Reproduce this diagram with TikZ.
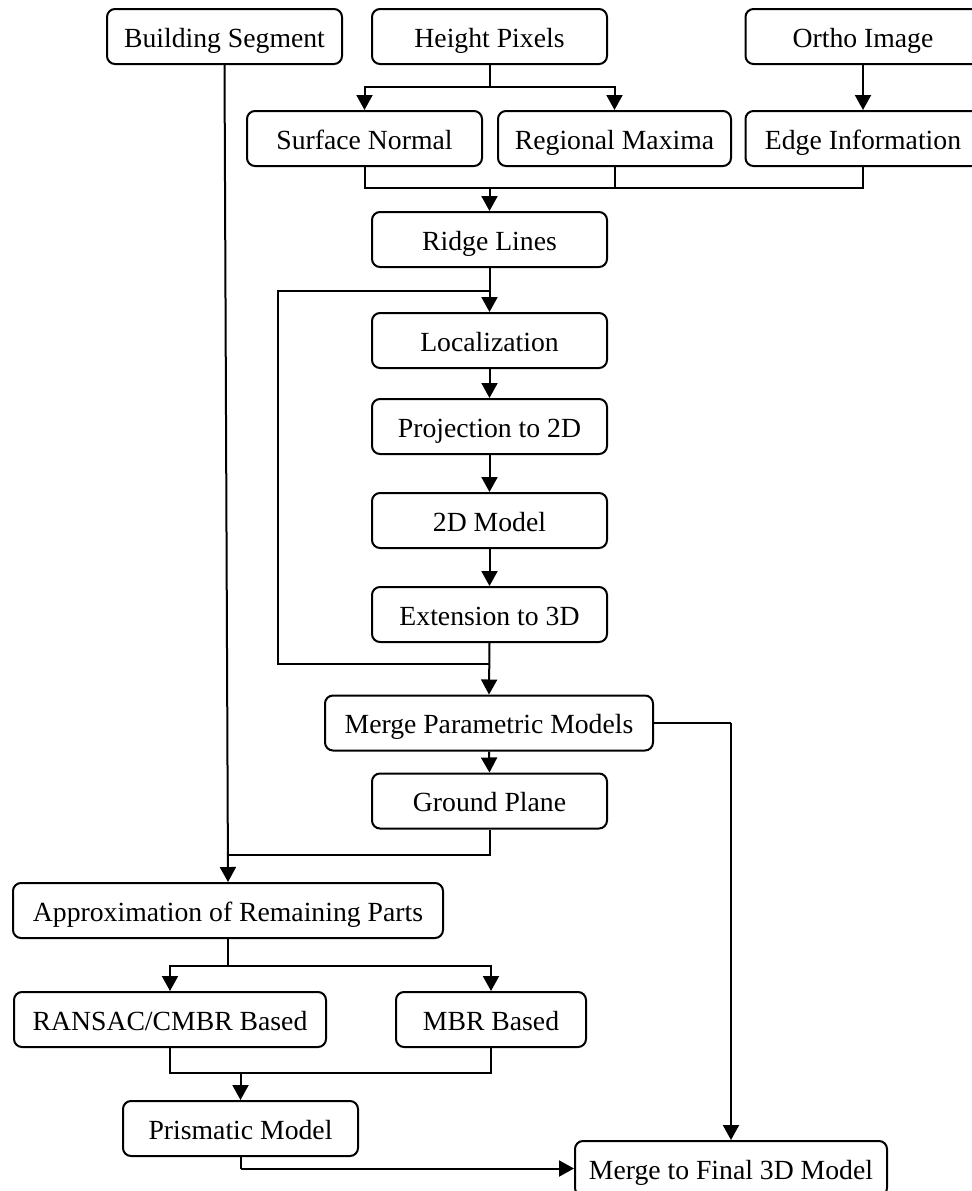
\documentclass[tikz,border=0pt]{standalone}
\usepackage{fontspec}
\setmainfont{Liberation Serif}
\usetikzlibrary{arrows.meta}
\tikzset{
  box/.style={draw, rounded corners=4pt, line width=1pt, inner sep=0pt,
    minimum height=27.5pt, text height=12pt, text depth=1.5pt,
    font=\fontsize{13.85}{16}\selectfont},
  wb/.style={box, minimum width=117.5pt},
  link/.style={line width=1pt},
  arr/.style={line width=1pt, -{Triangle[width=8pt,length=7.5pt]}}
}
\begin{document}
\begin{tikzpicture}[x=0.5pt,y=-0.5pt]
\useasboundingbox (0,0) rectangle (972,1191);
\clip (0,0) rectangle (972,1191);
% nodes
\node[wb] (bs) at (224.5,36.5) {Building Segment};
\node[wb] (hp) at (489.5,36.5) {Height Pixels};
\node[wb] (oi) at (863,36.5) {Ortho Image};
\node[wb] (sn) at (364.5,138.5) {Surface Normal};
\node[box, minimum width=116.5pt] (rm) at (614.5,138.5) {Regional Maxima};
\node[wb] (ei) at (863,138.5) {Edge Information};
\node[wb] (rl) at (489.5,239.5) {Ridge Lines};
\node[wb] (loc) at (489.5,340.5) {Localization};
\node[wb] (p2d) at (489.5,426.5) {Projection to 2D};
\node[wb] (m2d) at (489.5,520.5) {2D Model};
\node[wb] (e3d) at (489.5,614.5) {Extension to 3D};
\node[box, minimum width=164pt] (mpm) at (489,723) {Merge Parametric Models};
\node[wb] (gp) at (489.5,801) {Ground Plane};
\node[box, minimum width=215pt] (arp) at (228,910.5) {Approximation of Remaining Parts};
\node[box, minimum width=156pt] (ran) at (170,1019.5) {RANSAC/CMBR Based};
\node[box, minimum width=95pt] (mbr) at (491,1019.5) {MBR Based};
\node[wb] (pm) at (240.5,1128.5) {Prismatic Model};
\node[box, minimum width=156pt] (mf) at (731,1168.5) {Merge to Final 3D Model};
% junction coordinates
\coordinate (j1) at (489.5,87);
\coordinate (j2) at (489.5,188);
\coordinate (lt) at (489.5,291);
\coordinate (ll1) at (278,291);
\coordinate (ll2) at (278,664);
\coordinate (lb) at (489.5,664);
\coordinate (gj) at (489.5,855);
\coordinate (bj) at (227.7,855);
\coordinate (aj) at (228,966);
\coordinate (rj) at (240.5,1073);
\coordinate (pj) at (240.5,1168.5);
\coordinate (mj) at (731,723);
% connectors
\draw[link] (hp.south) -- (j1);
\draw[arr] (j1) -| (sn.north);
\draw[arr] (j1) -| (rm.north);
\draw[arr] (oi.south) -- (ei.north);
\draw[link] (sn.south) |- (j2);
\draw[link] (rm.south) |- (j2);
\draw[link] (ei.south) |- (j2);
\draw[arr] (j2) -- (rl.north);
\draw[arr] (rl.south) -- (loc.north);
\draw[link] (lt) -- (ll1) -- (ll2) -- (lb);
\draw[arr] (loc.south) -- (p2d.north);
\draw[arr] (p2d.south) -- (m2d.north);
\draw[arr] (m2d.south) -- (e3d.north);
\draw[arr] (e3d.south) -- (mpm.north);
\draw[arr] (mpm.south) -- (gp.north);
\draw[link] (gp.south) -- (gj) -- (bj);
\draw[arr] (bs.south) -- (arp.north);
\draw[link] (arp.south) -- (aj);
\draw[arr] (aj) -| (ran.north);
\draw[arr] (aj) -| (mbr.north);
\draw[link] (ran.south) |- (rj);
\draw[link] (mbr.south) |- (rj);
\draw[arr] (rj) -- (pm.north);
\draw[link] (pm.south) -- (pj);
\draw[arr] (pj) -- (mf.west);
\draw[link] (mpm.east) -- (mj);
\draw[arr] (mj) -- (mf.north);
\end{tikzpicture}
\end{document}
